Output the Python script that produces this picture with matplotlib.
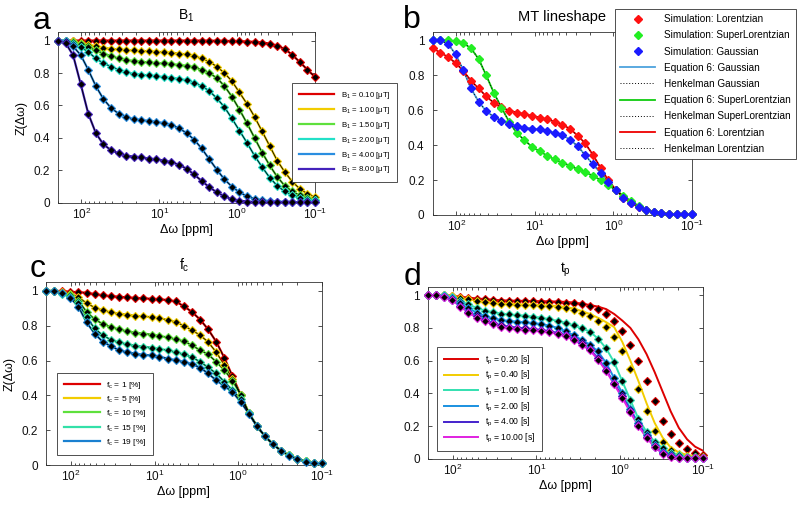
import numpy as np
import matplotlib
matplotlib.use('Agg')
import matplotlib.pyplot as plt
from matplotlib.ticker import LogLocator, NullFormatter

plt.rcParams['font.family'] = ['Liberation Sans', 'DejaVu Sans']
plt.rcParams['mathtext.default'] = 'regular'
plt.rcParams['axes.linewidth'] = 0.6

# frequency offsets of the simulated points [ppm]
offsets_ppm = [200, 160, 128, 102, 81.8, 65.4, 52.3, 41.8, 33.4, 26.7, 21.4, 17.1,
               13.7, 10.9, 8.75, 7.0, 5.59, 4.47, 3.58, 2.86, 2.29, 1.83, 1.46, 1.17,
               0.935, 0.748, 0.598, 0.478, 0.382, 0.306, 0.245, 0.196, 0.156, 0.125, 0.1]

# ---- panel a: B1 ----
b1_labels = ['B$_1$ = 0.10 [μT]', 'B$_1$ = 1.00 [μT]', 'B$_1$ = 1.50 [μT]',
             'B$_1$ = 2.00 [μT]', 'B$_1$ = 4.00 [μT]', 'B$_1$ = 8.00 [μT]']
b1_colors = ['#dd0000', '#f2cc00', '#5ee03c', '#22e0c8', '#2a8ee0', '#4422bb']
b1_010 = [1.0, 1.0, 1.0, 1.0, 1.0, 1.0, 1.0, 1.0, 1.0, 1.0, 1.0, 1.0, 1.0, 1.0, 1.0,
          1.0, 1.0, 1.0, 1.0, 1.0, 0.999, 0.999, 0.998, 0.997, 0.996, 0.994, 0.992,
          0.988, 0.981, 0.968, 0.948, 0.912, 0.866, 0.82, 0.775]
b1_100 = [1.0, 1.0, 0.995, 0.985, 0.975, 0.965, 0.955, 0.95, 0.945, 0.94, 0.94, 0.935,
          0.935, 0.93, 0.93, 0.925, 0.92, 0.915, 0.905, 0.89, 0.87, 0.84, 0.80, 0.75,
          0.68, 0.61, 0.53, 0.44, 0.35, 0.26, 0.19, 0.13, 0.085, 0.055, 0.035]
b1_150 = [1.0, 1.0, 0.99, 0.98, 0.96, 0.94, 0.92, 0.905, 0.89, 0.88, 0.875, 0.87,
          0.865, 0.86, 0.86, 0.855, 0.85, 0.845, 0.835, 0.82, 0.80, 0.77, 0.72, 0.655,
          0.575, 0.49, 0.40, 0.31, 0.23, 0.16, 0.105, 0.07, 0.045, 0.03, 0.02]
b1_200 = [1.0, 1.0, 0.98, 0.96, 0.93, 0.89, 0.86, 0.84, 0.82, 0.805, 0.795, 0.79,
          0.785, 0.78, 0.775, 0.77, 0.765, 0.755, 0.74, 0.72, 0.69, 0.645, 0.59, 0.52,
          0.445, 0.37, 0.29, 0.22, 0.155, 0.105, 0.07, 0.045, 0.03, 0.02, 0.015]
b1_400 = [1.0, 1.0, 0.965, 0.91, 0.82, 0.72, 0.64, 0.585, 0.55, 0.53, 0.515, 0.51,
          0.505, 0.50, 0.49, 0.48, 0.46, 0.43, 0.39, 0.335, 0.27, 0.205, 0.145, 0.10,
          0.065, 0.04, 0.025, 0.015, 0.01, 0.008, 0.006, 0.005, 0.004, 0.003, 0.003]
b1_800 = [1.0, 0.985, 0.91, 0.73, 0.55, 0.43, 0.36, 0.325, 0.305, 0.29, 0.285, 0.28,
          0.272, 0.268, 0.26, 0.25, 0.235, 0.21, 0.175, 0.135, 0.097, 0.065, 0.04,
          0.022, 0.013, 0.008, 0.005, 0.004, 0.003, 0.003, 0.002, 0.002, 0.002, 0.002, 0.002]

# ---- panel b: MT lineshape ----
sim_lorentz = [0.955, 0.93, 0.905, 0.87, 0.825, 0.77, 0.725, 0.68, 0.642, 0.617, 0.598,
               0.587, 0.578, 0.568, 0.558, 0.548, 0.535, 0.518, 0.493, 0.455, 0.41, 0.345,
               0.27, 0.20, 0.145, 0.10, 0.068, 0.045, 0.028, 0.017, 0.011, 0.007, 0.005,
               0.004, 0.003]
sim_superlorentz = [1.0, 1.0, 1.0, 0.995, 0.985, 0.955, 0.895, 0.80, 0.70, 0.615, 0.535,
                    0.47, 0.43, 0.39, 0.365, 0.34, 0.318, 0.30, 0.282, 0.263, 0.244, 0.225,
                    0.20, 0.171, 0.143, 0.11, 0.08, 0.052, 0.03, 0.017, 0.01, 0.006, 0.004,
                    0.003, 0.003]
sim_gauss = [1.0, 1.0, 0.98, 0.92, 0.83, 0.725, 0.65, 0.595, 0.562, 0.54, 0.524, 0.51,
             0.50, 0.495, 0.49, 0.482, 0.47, 0.457, 0.432, 0.394, 0.343, 0.29, 0.242, 0.19,
             0.143, 0.10, 0.07, 0.048, 0.03, 0.019, 0.012, 0.008, 0.005, 0.004, 0.003]

# ---- panel c: fc ----
fc_labels = ['f$_c$ = 1 [%]', 'f$_c$ = 5 [%]', 'f$_c$ = 10 [%]', 'f$_c$ = 15 [%]', 'f$_c$ = 19 [%]']
fc_colors = ['#dd0000', '#f2cc00', '#5ee03c', '#33e0a8', '#1a80d0']
fc_01 = [1.0, 1.0, 1.0, 0.995, 0.993, 0.99, 0.982, 0.975, 0.97, 0.967, 0.963, 0.96,
         0.958, 0.955, 0.952, 0.948, 0.94, 0.912, 0.88, 0.836, 0.78, 0.708, 0.615, 0.51,
         0.405, 0.30, 0.225, 0.165, 0.12, 0.082, 0.055, 0.035, 0.022, 0.013, 0.01]
fc_05 = [1.0, 1.0, 0.995, 0.985, 0.965, 0.93, 0.905, 0.89, 0.877, 0.87, 0.864, 0.858,
         0.854, 0.85, 0.843, 0.835, 0.822, 0.80, 0.775, 0.746, 0.707, 0.648, 0.574, 0.495,
         0.405, 0.30, 0.225, 0.165, 0.12, 0.082, 0.055, 0.035, 0.022, 0.013, 0.01]
fc_10 = [1.0, 1.0, 0.99, 0.975, 0.945, 0.88, 0.838, 0.81, 0.793, 0.78, 0.768, 0.761,
         0.755, 0.75, 0.742, 0.733, 0.722, 0.712, 0.688, 0.66, 0.636, 0.593, 0.545, 0.485,
         0.405, 0.30, 0.225, 0.165, 0.12, 0.082, 0.055, 0.035, 0.022, 0.013, 0.01]
fc_15 = [1.0, 1.0, 0.985, 0.965, 0.93, 0.85, 0.785, 0.745, 0.72, 0.705, 0.694, 0.686,
         0.68, 0.675, 0.667, 0.66, 0.648, 0.636, 0.62, 0.593, 0.561, 0.526, 0.478, 0.43,
         0.38, 0.30, 0.225, 0.165, 0.12, 0.082, 0.055, 0.035, 0.022, 0.013, 0.01]
fc_19 = [1.0, 1.0, 0.99, 0.96, 0.91, 0.82, 0.755, 0.708, 0.683, 0.66, 0.648, 0.64,
         0.633, 0.63, 0.622, 0.612, 0.602, 0.593, 0.58, 0.56, 0.526, 0.487, 0.453, 0.42,
         0.363, 0.296, 0.224, 0.166, 0.118, 0.081, 0.053, 0.032, 0.019, 0.013, 0.009]

# ---- panel d: tp ----
tp_labels = ['t$_p$ = 0.20 [s]', 't$_p$ = 0.40 [s]', 't$_p$ = 1.00 [s]',
             't$_p$ = 2.00 [s]', 't$_p$ = 4.00 [s]', 't$_p$ = 10.00 [s]']
tp_colors = ['#dd0000', '#f2cc00', '#33e0b0', '#1a90e0', '#4422cc', '#e020e0']
tp_020_sim = [1.0, 1.0, 1.0, 0.996, 0.99, 0.984, 0.979, 0.974, 0.97, 0.967, 0.965, 0.964,
              0.963, 0.962, 0.961, 0.96, 0.958, 0.955, 0.95, 0.943, 0.933, 0.918, 0.882,
              0.845, 0.78, 0.698, 0.596, 0.473, 0.351, 0.233, 0.152, 0.097, 0.058, 0.035, 0.025]
tp_020_eq = [1.0, 1.0, 1.0, 0.996, 0.99, 0.985, 0.98, 0.976, 0.972, 0.969, 0.967, 0.966,
             0.965, 0.964, 0.963, 0.962, 0.961, 0.959, 0.955, 0.948, 0.94, 0.93, 0.915,
             0.885, 0.845, 0.80, 0.73, 0.64, 0.53, 0.41, 0.29, 0.19, 0.12, 0.075, 0.05]
tp_040_sim = [1.0, 1.0, 1.0, 0.994, 0.984, 0.974, 0.964, 0.957, 0.951, 0.947, 0.943, 0.941,
              0.939, 0.937, 0.935, 0.932, 0.928, 0.92, 0.908, 0.892, 0.875, 0.845, 0.803,
              0.743, 0.657, 0.551, 0.429, 0.294, 0.173, 0.106, 0.055, 0.03, 0.018, 0.012, 0.01]
tp_040_eq = [1.0, 1.0, 1.0, 0.995, 0.986, 0.976, 0.967, 0.96, 0.954, 0.95, 0.947, 0.945,
             0.943, 0.941, 0.939, 0.937, 0.934, 0.928, 0.918, 0.903, 0.885, 0.862, 0.835,
             0.805, 0.715, 0.60, 0.475, 0.34, 0.22, 0.13, 0.07, 0.04, 0.025, 0.015, 0.012]
tp_100 = [1.0, 1.0, 1.0, 0.988, 0.963, 0.943, 0.923, 0.906, 0.896, 0.888, 0.882, 0.878,
          0.874, 0.868, 0.862, 0.853, 0.843, 0.83, 0.815, 0.798, 0.778, 0.735, 0.675, 0.59,
          0.475, 0.36, 0.245, 0.165, 0.105, 0.065, 0.038, 0.022, 0.014, 0.01, 0.008]
tp_200 = [1.0, 1.0, 0.995, 0.98, 0.953, 0.922, 0.893, 0.872, 0.858, 0.848, 0.842, 0.838,
          0.834, 0.829, 0.823, 0.814, 0.80, 0.78, 0.755, 0.727, 0.698, 0.657, 0.586, 0.494,
          0.402, 0.306, 0.218, 0.147, 0.086, 0.045, 0.024, 0.014, 0.009, 0.006, 0.005]
tp_400 = [1.0, 1.0, 0.99, 0.97, 0.935, 0.9, 0.87, 0.848, 0.83, 0.815, 0.808, 0.802,
          0.797, 0.792, 0.787, 0.78, 0.77, 0.755, 0.733, 0.705, 0.67, 0.615, 0.545, 0.463,
          0.382, 0.294, 0.208, 0.137, 0.076, 0.035, 0.016, 0.008, 0.005, 0.004, 0.003]
tp_1000 = [1.0, 1.0, 0.99, 0.968, 0.93, 0.893, 0.862, 0.84, 0.822, 0.808, 0.8, 0.795,
           0.79, 0.785, 0.78, 0.773, 0.763, 0.748, 0.726, 0.698, 0.663, 0.607, 0.537, 0.455,
           0.373, 0.285, 0.2, 0.13, 0.072, 0.033, 0.015, 0.008, 0.005, 0.004, 0.003]

AX_COL = '#333333'


def style_axis(ax, ylabel=True):
    ax.set_xscale('log')
    ax.set_xlim(200, 0.1)
    ax.set_ylim(0, 1.05)
    ax.set_yticks([0, 0.2, 0.4, 0.6, 0.8, 1])
    ax.set_yticklabels(['0', '0.2', '0.4', '0.6', '0.8', '1'])
    ax.xaxis.set_major_locator(LogLocator(base=10, numticks=10))
    ax.xaxis.set_minor_locator(LogLocator(base=10, subs=np.arange(2, 10), numticks=20))
    ax.xaxis.set_minor_formatter(NullFormatter())
    ax.tick_params(which='both', direction='in', top=True, right=True,
                   labelsize=8.5, color=AX_COL, labelcolor='#111111', width=0.6)
    ax.tick_params(which='major', length=3.2)
    ax.tick_params(axis='y', which='major', pad=6)
    ax.tick_params(axis='x', which='major', pad=3)
    ax.tick_params(which='minor', length=1.8)
    for s in ax.spines.values():
        s.set_color(AX_COL)
    ax.set_xlabel('Δω [ppm]', fontsize=9, labelpad=1.5)
    if ylabel:
        ax.set_ylabel('Z(Δω)', fontsize=9, labelpad=4)


def panel_legend(ax, fig, x0, y0, fs, **kw):
    leg = ax.legend(loc='upper left', bbox_to_anchor=(x0, y0), bbox_transform=fig.transFigure,
                    fontsize=fs, frameon=True, fancybox=False, framealpha=1,
                    edgecolor=AX_COL, borderaxespad=0, **kw)
    leg.get_frame().set_linewidth(0.6)
    return leg


fig = plt.figure(figsize=(8, 5.07), dpi=100)

# ---------- a ----------
ax_a = fig.add_axes([0.0725, 0.600, 0.3213, 0.336])
for y, c, lab in zip([b1_010, b1_100, b1_150, b1_200, b1_400, b1_800], b1_colors, b1_labels):
    ax_a.plot(offsets_ppm, y, color=c, lw=1.6, label=lab, zorder=2)
    ax_a.plot(offsets_ppm, y, color='k', lw=0.6, zorder=3)
    ax_a.plot(offsets_ppm, y, ls='none', marker='D', ms=3.8, mfc='k', mec=c, mew=0.8,
              zorder=4, clip_on=False)
style_axis(ax_a)
ax_a.set_title('B$_1$', fontsize=10, pad=9)
panel_legend(ax_a, fig, 0.3646, 0.8363, 5.6, handlelength=4.6, labelspacing=0.5,
             handletextpad=0.8, borderpad=0.9)

# ---------- b ----------
ax_b = fig.add_axes([0.541, 0.576, 0.324, 0.3615])
col_l, col_s, col_g = '#ff1010', '#22ee22', '#1a1aff'
eq_g = ax_b.plot(offsets_ppm, sim_gauss, color='#4da3dd', lw=1.3, zorder=2)[0]
eq_s = ax_b.plot(offsets_ppm, sim_superlorentz, color='#10cc10', lw=1.3, zorder=2)[0]
eq_l = ax_b.plot(offsets_ppm, sim_lorentz, color='#ee0000', lw=1.3, zorder=2)[0]
for y in [sim_gauss, sim_superlorentz, sim_lorentz]:
    hk = ax_b.plot(offsets_ppm, y, color='k', lw=0.7, ls=(0, (1, 2)), zorder=3)[0]
m_l = ax_b.plot(offsets_ppm, sim_lorentz, ls='none', marker='D', ms=4.4, color=col_l,
                zorder=4, clip_on=False)[0]
m_s = ax_b.plot(offsets_ppm, sim_superlorentz, ls='none', marker='D', ms=4.4, color=col_s,
                zorder=4, clip_on=False)[0]
m_g = ax_b.plot(offsets_ppm, sim_gauss, ls='none', marker='D', ms=4.4, color=col_g,
                zorder=5, clip_on=False)[0]
style_axis(ax_b, ylabel=False)
ax_b.set_title('MT lineshape', fontsize=10.5, pad=8)
b_handles = [m_l, m_s, m_g, eq_g, hk, eq_s, hk, eq_l, hk]
b_labels = ['Simulation: Lorentzian', 'Simulation: SuperLorentzian', 'Simulation: Gaussian',
            'Equation 6: Gaussian', 'Henkelman Gaussian', 'Equation 6: SuperLorentzian',
            'Henkelman SuperLorentzian', 'Equation 6: Lorentzian', 'Henkelman Lorentzian']
leg_b = ax_b.legend(b_handles, b_labels, loc='upper left', bbox_to_anchor=(0.769, 0.982),
                    bbox_transform=fig.transFigure, fontsize=7.2, frameon=True, fancybox=False,
                    framealpha=1, edgecolor=AX_COL, borderaxespad=0, numpoints=1,
                    handlelength=3.5, labelspacing=0.62, handletextpad=0.9, borderpad=0.5)
leg_b.get_frame().set_linewidth(0.6)

# ---------- c ----------
ax_c = fig.add_axes([0.0575, 0.0828, 0.3446, 0.3604])
for y, c, lab in zip([fc_01, fc_05, fc_10, fc_15, fc_19], fc_colors, fc_labels):
    ax_c.plot(offsets_ppm, y, color=c, lw=1.6, label=lab, zorder=2)
    ax_c.plot(offsets_ppm, y, color='k', lw=0.6, zorder=3)
    ax_c.plot(offsets_ppm, y, ls='none', marker='D', ms=3.8, mfc='k', mec=c, mew=0.8,
              zorder=4, clip_on=False)
style_axis(ax_c)
ax_c.set_title('f$_c$', fontsize=10, pad=9)
panel_legend(ax_c, fig, 0.0713, 0.2643, 6.0, handlelength=4.3, labelspacing=0.4,
             handletextpad=0.8, borderpad=0.8)

# ---------- d ----------
ax_d = fig.add_axes([0.535, 0.0947, 0.344, 0.3393])
d_sims = [tp_020_sim, tp_040_sim, tp_100, tp_200, tp_400, tp_1000]
d_eqs = [tp_020_eq, tp_040_eq, tp_100, tp_200, tp_400, tp_1000]
for ys, ye, c, lab in zip(d_sims, d_eqs, tp_colors, tp_labels):
    ax_d.plot(offsets_ppm, ye, color=c, lw=1.4, label=lab, zorder=2)
for ys, c in zip(d_sims, tp_colors):
    ax_d.plot(offsets_ppm, ys, ls='none', marker='D', ms=4.2, mfc='k', mec=c, mew=0.8,
              zorder=4, clip_on=False)
style_axis(ax_d, ylabel=False)
ax_d.set_title('t$_p$', fontsize=10, pad=10)
panel_legend(ax_d, fig, 0.546, 0.3156, 6.2, handlelength=4.0, labelspacing=0.28,
             handletextpad=0.8, borderpad=0.8)

# panel letters
fig.text(0.041, 0.943, 'a', fontsize=23, va='baseline')
fig.text(0.504, 0.945, 'b', fontsize=23, va='baseline')
fig.text(0.0375, 0.4536, 'c', fontsize=23, va='baseline')
fig.text(0.504, 0.438, 'd', fontsize=23, va='baseline')

fig.savefig('out.png', dpi=100)
